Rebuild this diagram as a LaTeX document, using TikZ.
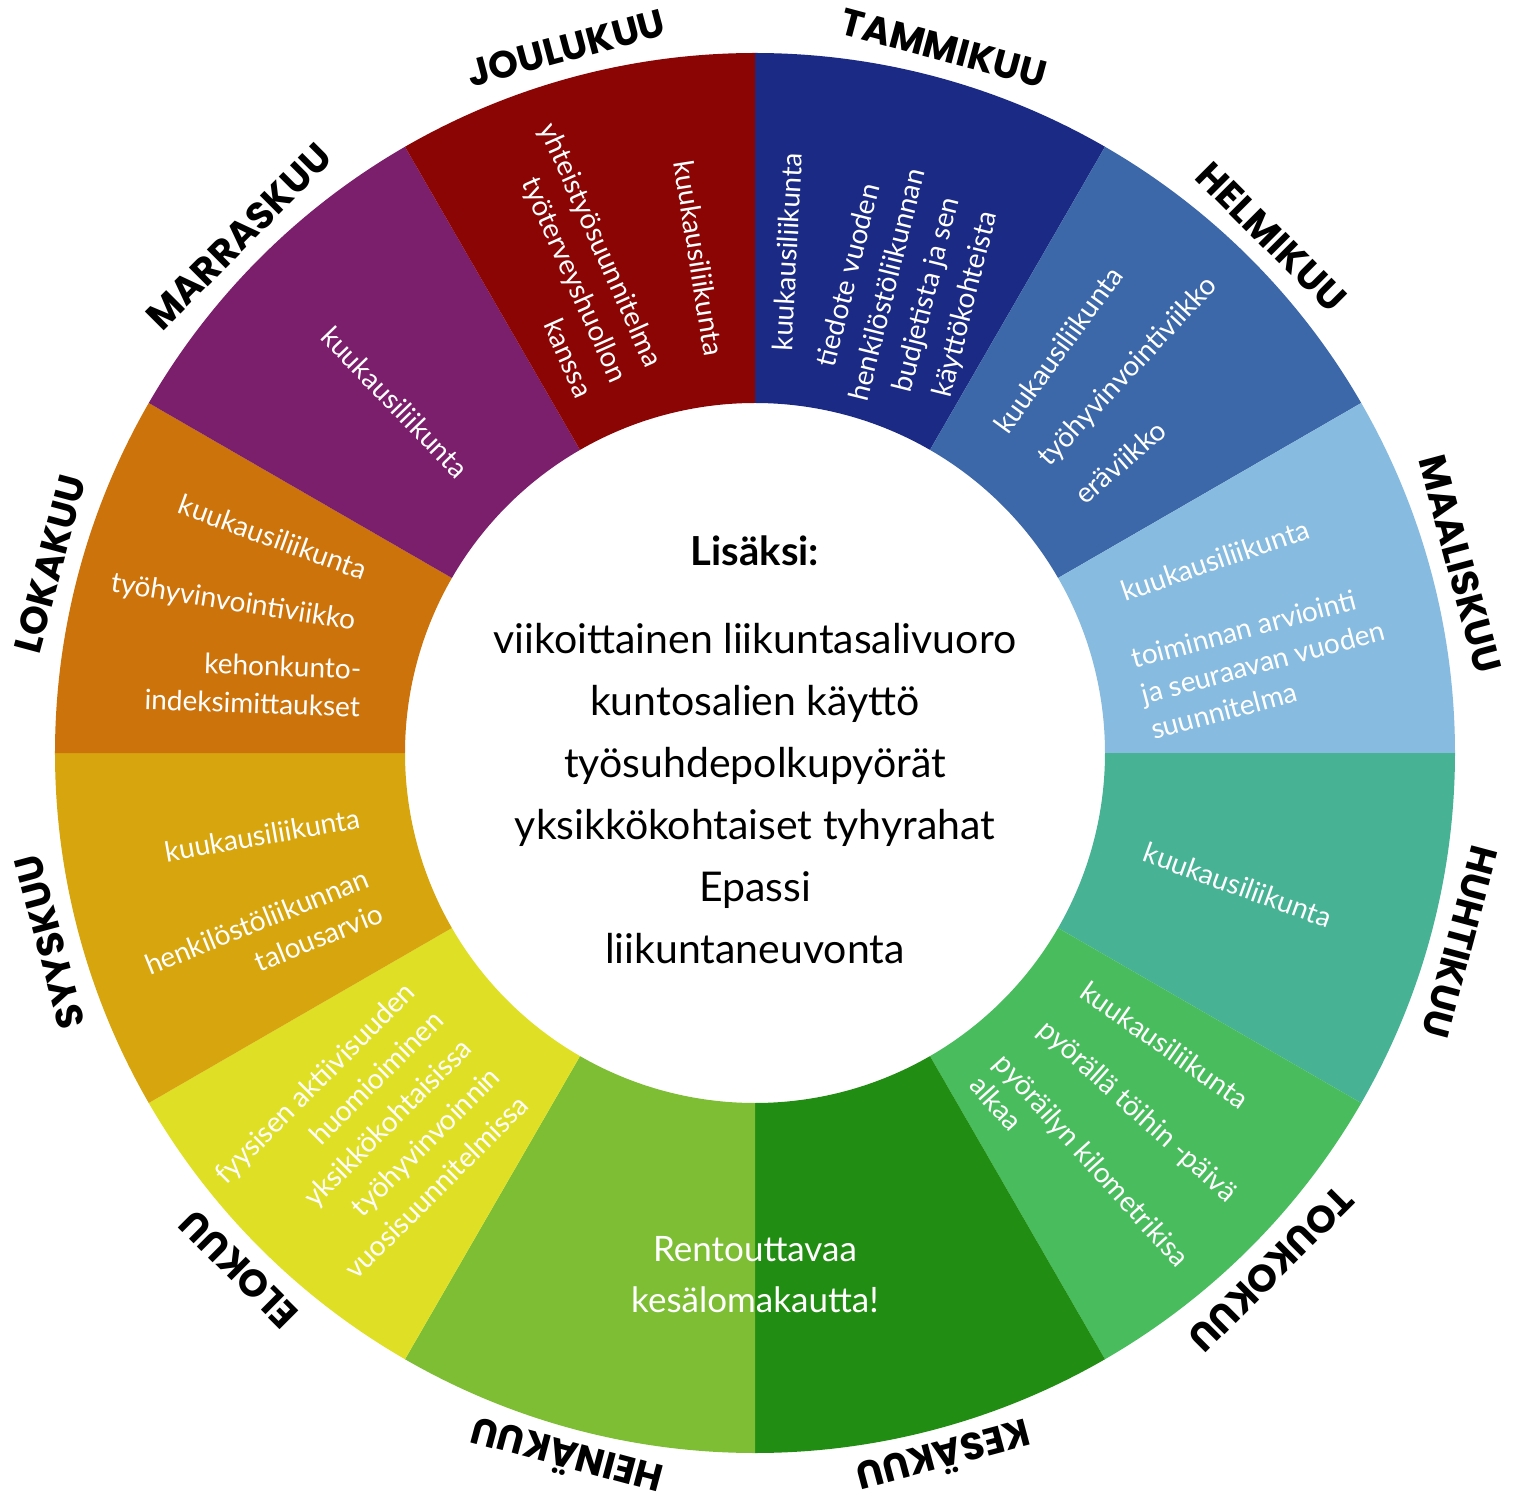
\documentclass[tikz,border=0pt]{standalone}
\usepackage{fontspec}
\setmainfont{Lato}
\newfontfamily\monthfont{Poppins}

\definecolor{tammi}{HTML}{1B2A84}
\definecolor{helmi}{HTML}{3C68A9}
\definecolor{maalis}{HTML}{87BBDF}
\definecolor{huhti}{HTML}{47B394}
\definecolor{touko}{HTML}{49BD5E}
\definecolor{kesa}{HTML}{218D12}
\definecolor{heina}{HTML}{7DBE34}
\definecolor{elo}{HTML}{DFE025}
\definecolor{syys}{HTML}{D7A50E}
\definecolor{loka}{HTML}{CD730B}
\definecolor{marras}{HTML}{7B1E6B}
\definecolor{joulu}{HTML}{8C0505}

\begin{document}
\begin{tikzpicture}[x=1pt, y=1pt,
  monthlabel/.style = {font=\monthfont\bfseries\fontsize{38}{38}\selectfont, inner sep=0pt},
  sectortext/.style = {font=\fontsize{28}{38}\selectfont, text=white, inner sep=0pt},
  extratext/.style = {font=\fontsize{41}{62}\selectfont, align=center, inner sep=0pt}]
	\useasboundingbox (-755,-748) rectangle (759,753);

	\fill[tammi] (90:700pt) arc[start angle=90, end angle=60, radius=700pt] -- (60:350pt) arc[start angle=60, end angle=90, radius=350pt] -- cycle;
	\fill[helmi] (60:700pt) arc[start angle=60, end angle=30, radius=700pt] -- (30:350pt) arc[start angle=30, end angle=60, radius=350pt] -- cycle;
	\fill[maalis] (30:700pt) arc[start angle=30, end angle=0, radius=700pt] -- (0:350pt) arc[start angle=0, end angle=30, radius=350pt] -- cycle;
	\fill[huhti] (0:700pt) arc[start angle=0, end angle=-30, radius=700pt] -- (-30:350pt) arc[start angle=-30, end angle=0, radius=350pt] -- cycle;
	\fill[touko] (-30:700pt) arc[start angle=-30, end angle=-60, radius=700pt] -- (-60:350pt) arc[start angle=-60, end angle=-30, radius=350pt] -- cycle;
	\fill[kesa] (-60:700pt) arc[start angle=-60, end angle=-90, radius=700pt] -- (-90:350pt) arc[start angle=-90, end angle=-60, radius=350pt] -- cycle;
	\fill[heina] (-90:700pt) arc[start angle=-90, end angle=-120, radius=700pt] -- (-120:350pt) arc[start angle=-120, end angle=-90, radius=350pt] -- cycle;
	\fill[elo] (-120:700pt) arc[start angle=-120, end angle=-150, radius=700pt] -- (-150:350pt) arc[start angle=-150, end angle=-120, radius=350pt] -- cycle;
	\fill[syys] (-150:700pt) arc[start angle=-150, end angle=-180, radius=700pt] -- (-180:350pt) arc[start angle=-180, end angle=-150, radius=350pt] -- cycle;
	\fill[loka] (180:700pt) arc[start angle=180, end angle=150, radius=700pt] -- (150:350pt) arc[start angle=150, end angle=180, radius=350pt] -- cycle;
	\fill[marras] (150:700pt) arc[start angle=150, end angle=120, radius=700pt] -- (120:350pt) arc[start angle=120, end angle=150, radius=350pt] -- cycle;
	\fill[joulu] (120:700pt) arc[start angle=120, end angle=90, radius=700pt] -- (90:350pt) arc[start angle=90, end angle=120, radius=350pt] -- cycle;

	\node[monthlabel, rotate=-15] (tammikuu) at (75:730pt) {TAMMIKUU};
	\node[monthlabel, rotate=-45] (helmikuu) at (45:730pt) {HELMIKUU};
	\node[monthlabel, rotate=-75] (maaliskuu) at (15:730pt) {MAALISKUU};
	\node[monthlabel, rotate=-105] (huhtikuu) at (-15:730pt) {HUHTIKUU};
	\node[monthlabel, rotate=-135] (toukokuu) at (-45:730pt) {TOUKOKUU};
	\node[monthlabel, rotate=-165] (kesakuu) at (-75:730pt) {KESÄKUU};
	\node[monthlabel, rotate=165] (heinakuu) at (-105:730pt) {HEINÄKUU};
	\node[monthlabel, rotate=135] (elokuu) at (-135:730pt) {ELOKUU};
	\node[monthlabel, rotate=105] (syyskuu) at (-165:730pt) {SYYSKUU};
	\node[monthlabel, rotate=75] (lokakuu) at (165:730pt) {LOKAKUU};
	\node[monthlabel, rotate=45] (marraskuu) at (135:730pt) {MARRASKUU};
	\node[monthlabel, rotate=15] (joulukuu) at (105:730pt) {JOULUKUU};

	\node[sectortext, rotate=87] (tammi1) at (32,501) {kuukausiliikunta};
	\node[sectortext, rotate=76, align=center, font=\fontsize{28}{40}\selectfont] (tammi2) at (153,463)
		{tiedote vuoden\\henkilöstöliikunnan\\budjetista ja sen\\käyttökohteista};

	\node[sectortext, rotate=54] (helmi1) at (303,403) {kuukausiliikunta};
	\node[sectortext, rotate=47] (helmi2) at (373,381) {työhyvinvointiviikko};
	\node[sectortext, rotate=41] (helmi3) at (365,291) {eräviikko};

	\node[sectortext, rotate=19] (maalis1) at (460,193) {kuukausiliikunta};
	\node[sectortext, rotate=15, align=left, font=\fontsize{28}{37}\selectfont] (maalis2) at (508,91)
		{toiminnan arviointi\\ja seuraavan vuoden\\suunnitelma};

	\node[sectortext, rotate=-20] (huhti1) at (483,-132) {kuukausiliikunta};

	\node[sectortext, rotate=-35] (touko1) at (410,-292) {kuukausiliikunta};
	\node[sectortext, rotate=-42] (touko2) at (382,-359) {pyörällä töihin -päivä};
	\node[sectortext, rotate=-48, align=left, font=\fontsize{28}{33}\selectfont] (touko3) at (325,-418)
		{pyöräilyn kilometrikisa\\alkaa};

	\node[sectortext, align=center, font=\fontsize{35}{51}\selectfont] (kesa1) at (0,-522)
		{Rentouttavaa\\kesälomakautta!};

	\node[sectortext, rotate=45, align=right, font=\fontsize{28}{40}\selectfont] (elo1) at (-384,-386)
		{fyysisen aktiivisuuden\\huomioiminen\\yksikkökohtaisissa\\työhyvinvoinnin\\vuosisuunnitelmissa};

	\node[sectortext, rotate=10] (syys1) at (-493,-82) {kuukausiliikunta};
	\node[sectortext, rotate=22, align=right] (syys2) at (-491,-186) {henkilöstöliikunnan\\talousarvio};

	\node[sectortext, rotate=-20] (loka1) at (-482,216) {kuukausiliikunta};
	\node[sectortext, rotate=-9] (loka2) at (-522,150) {työhyvinvointiviikko};
	\node[sectortext, rotate=-2, align=right] (loka3) at (-502,69) {kehonkunto-\\indeksimittaukset};

	\node[sectortext, rotate=-46] (marras1) at (-360,351) {kuukausiliikunta};

	\node[sectortext, rotate=-81] (joulu1) at (-56,495) {kuukausiliikunta};
	\node[sectortext, rotate=-66, align=right] (joulu2) at (-188,493) {yhteistyösuunnitelma\\työterveyshuollon\\kanssa};

	\node[anchor=base, inner sep=0pt, font=\bfseries\fontsize{40}{40}\selectfont] (lisaksi) at (0,187) {Lisäksi:};
	\node[extratext] (extras) at (0,-41) {viikoittainen liikuntasalivuoro\\kuntosalien käyttö\\työsuhdepolkupyörät\\yksikkökohtaiset tyhyrahat\\Epassi\\liikuntaneuvonta};
\end{tikzpicture}
\end{document}
